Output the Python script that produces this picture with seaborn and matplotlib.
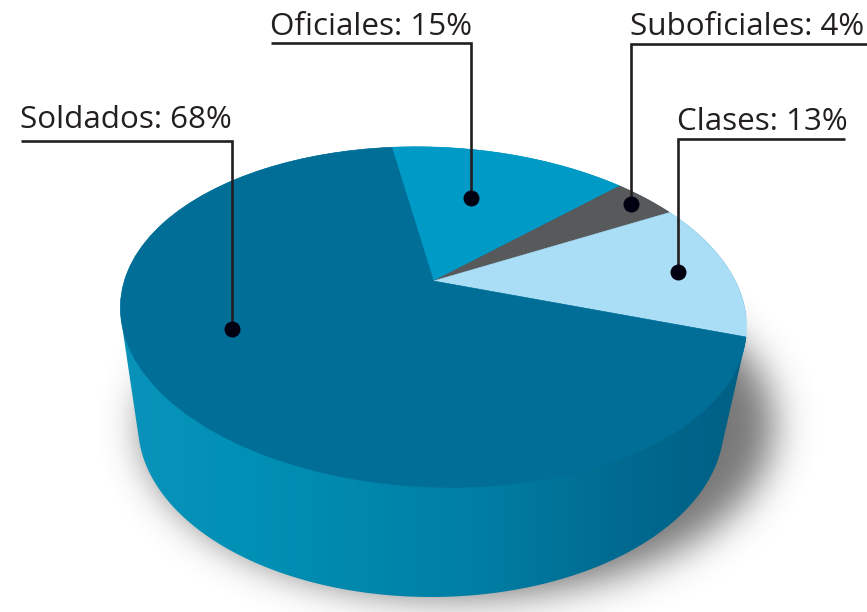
import numpy as np
import matplotlib
matplotlib.use("Agg")
import matplotlib.pyplot as plt
import seaborn as sns
from matplotlib.transforms import Transform
from matplotlib.patches import Polygon
from matplotlib.colors import LinearSegmentedColormap

# ---- data
categories = ["Oficiales", "Suboficiales", "Clases", "Soldados"]
values = [15, 4, 13, 68]
slice_colors = ["#009AC7", "#58595B", "#A9DEF6", "#006E97"]
# ---- callout layout (text x, baseline y, rule y, rule end x, stem x, dot y)
callouts = {
    "Oficiales":    (270, 35, 43, 271, 471, 198),
    "Suboficiales": (630, 35, 44, 867, 631, 204),
    "Clases":       (677, 130, 139, 845, 678, 272),
    "Soldados":     (20, 128, 141, 21, 232, 329),
}

sns.set_theme(style="white")
plt.rcParams["font.family"] = ["Open Sans", "DejaVu Sans"]

fig = plt.figure(figsize=(8.67, 6.12), dpi=100, facecolor="white")
ax = fig.add_axes([0, 0, 1, 1])


class Perspective(Transform):
    """Tilts the unit-circle pie into the drawing's perspective (pixel coords)."""
    input_dims = 2
    output_dims = 2
    is_separable = False

    def transform_non_affine(self, values):
        p = np.asarray(values, float)
        k, a, b = 0.212, 306.0, 162.4
        w = 1 + k * p[:, 1]
        X = a * p[:, 0] / w
        Y = b * p[:, 1] / w
        return np.column_stack([433.5 + X, 281 - Y + 0.03 * X])


persp = Perspective()

wedges, _ = ax.pie(values, colors=slice_colors, startangle=99.5,
                   counterclock=False, radius=1)
for w, c in zip(wedges, slice_colors):
    w.set_transform(persp + ax.transData)
    w.set_edgecolor(c)
    w.set_linewidth(0.4)
    w.set_zorder(3)
    w.set_clip_on(False)

# side wall = hull of top rim and lower ellipse
t = np.linspace(0, 2 * np.pi, 361)
rim = persp.transform(np.column_stack([np.cos(t), np.sin(t)]))
low = np.column_stack([431 + 293 * np.cos(t), 425 + 172 * np.sin(t)])


def hull(pts):
    pts = sorted(map(tuple, pts))
    def half(seq):
        out = []
        for q in seq:
            while len(out) > 1 and ((out[-1][0] - out[-2][0]) * (q[1] - out[-2][1])
                                    - (out[-1][1] - out[-2][1]) * (q[0] - out[-2][0])) <= 0:
                out.pop()
            out.append(q)
        return out[:-1]
    return np.array(half(pts) + half(pts[::-1]))


wall = Polygon(hull(np.vstack([rim, low])), transform=ax.transData, fc="none", ec="none")
ax.add_patch(wall)
cmap = LinearSegmentedColormap.from_list(
    "wall", ["#0A93BA", "#0090B6", "#0087AC", "#007CA2", "#006A90", "#005F84"])
grad = ax.imshow(np.linspace(0, 1, 256)[None, :], cmap=cmap, aspect="auto",
                 extent=(120, 746, 612, 140), zorder=2, interpolation="bilinear")
grad.set_clip_path(wall)

# soft shadow
yy, xx = np.mgrid[0:612, 0:867]
mask = (((xx - 458) / 316.0) ** 2 + ((yy - 425) / 172.0) ** 2 <= 1).astype(float)
sig = 19
kx = np.arange(-3 * sig, 3 * sig + 1)
g = np.exp(-kx ** 2 / (2 * sig ** 2))
g /= g.sum()
pad = np.apply_along_axis(lambda r: np.convolve(r, g, mode="same"), 1, mask)
pad = np.apply_along_axis(lambda r: np.convolve(r, g, mode="same"), 0, pad)
rgba = np.zeros((612, 867, 4))
rgba[..., :3] = 0.32
rgba[..., 3] = pad * 0.78
ax.imshow(rgba, extent=(0, 867, 612, 0), aspect="auto", zorder=1, interpolation="bilinear")

# callouts
ink = "#231F20"
for name, val in zip(categories, values):
    tx, by, ry, rx, sx, dy = callouts[name]
    ax.text(tx, by, f"{name}: {val}%", fontsize=22.6, color=ink, ha="left",
            va="baseline", zorder=6)
    ax.plot([rx, sx, sx], [ry, ry, dy], color=ink, lw=1.9, zorder=5,
            solid_joinstyle="miter", solid_capstyle="butt")
    ax.plot([sx], [dy], "o", color="#000010", ms=11.5, mew=0, zorder=5)

ax.set_xlim(0, 867)
ax.set_ylim(612, 0)
ax.set_aspect("auto")
ax.axis("off")
fig.savefig("out.png", dpi=100, facecolor="white")
